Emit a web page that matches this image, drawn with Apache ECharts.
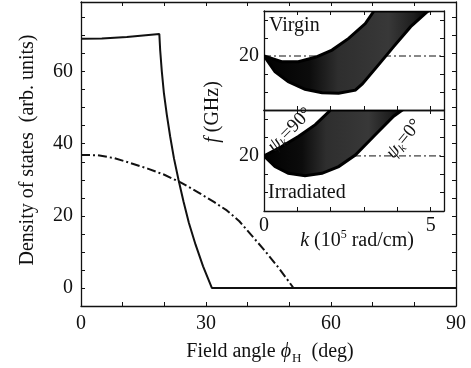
<!DOCTYPE html>
<html>
<head>
<meta charset="utf-8">
<script src="https://cdn.jsdelivr.net/npm/echarts@6/dist/echarts.min.js"></script>
<style>
html, body { margin: 0; background: #fff; }
#chart { width: 471px; height: 368px; }
</style>
</head>
<body>
<div id="chart"></div>
<script>
// main panel: density of states vs field angle
var angleTicks = [0, 10, 20, 30, 40, 50, 60, 70, 80, 90];
var angleLabels = [0, 30, 60, 90];
var dosTicks = [-5, 0, 5, 10, 15, 20, 25, 30, 35, 40, 45, 50, 55, 60, 65, 70, 75];
var dosLabels = [0, 20, 40, 60];

var solidCurve = [
  [0, 69.1], [5, 69.2], [11, 69.6], [18.8, 70.4], [19.0, 66], [19.4, 60],
  [19.9, 54], [20.6, 48], [21.4, 42], [22.3, 36], [23.4, 30], [24.6, 24],
  [25.9, 18], [27.5, 12], [29.3, 6], [31.4, 0], [90, 0]
];
var dashCurve = [
  [0, 36.9], [4, 36.8], [8, 36.0], [12, 34.6], [16, 33.1], [20, 31.4],
  [24, 29.2], [28, 26.6], [32, 23.8], [35, 21.5], [38, 18.5], [41, 14.5],
  [44, 10.5], [47.5, 5.5], [51, 0], [90, 0]
];

// inset: dispersion bands f(k)
var kTicks = [0, 1, 2, 3, 4, 5];
var kLabels = [0, 5];
var fTicks = [17, 18, 19, 20, 21, 22];
var fLabels = [20];

var virginUpper = [
  [0, 20], [0.53, 19.68], [1.03, 19.68], [1.54, 19.93], [2.04, 20.33],
  [2.54, 20.98], [3.04, 21.8], [3.3, 22.5]
];
var virginLower = [
  [0, 20], [0.33, 19.13], [0.73, 18.57], [1.23, 18.15], [1.74, 17.96],
  [2.24, 17.93], [2.74, 18.1], [2.95, 18.45], [3.39, 19.41], [3.89, 20.52],
  [4.4, 21.63], [4.9, 22.46], [4.95, 22.5]
];
var irrUpper = [
  [0, 20], [0.53, 20.51], [1.03, 21.06], [1.54, 21.7], [2.0, 22.5]
];
var irrLower = [
  [0, 20], [0.33, 19.42], [0.73, 19.05], [1.23, 18.92], [1.74, 19.05],
  [2.24, 19.42], [2.74, 20.05], [3.39, 21.25], [3.89, 22.16], [4.15, 22.5]
];
var refLine = [[0, 20], [5.4, 20]];

var ink = '#111';
var serif = 'Liberation Serif';

function axis(grid, pos, min, max, ticks, labels, extra) {
  var a = {
    type: 'value', gridIndex: grid, position: pos, min: min, max: max,
    axisLine: { show: true, onZero: false, lineStyle: { color: ink, width: 1.3 } },
    splitLine: { show: false },
    axisTick: { inside: true, length: 4, customValues: ticks, lineStyle: { color: ink, width: 1 } },
    axisLabel: { show: false }
  };
  if (labels) {
    a.axisLabel = {
      show: true, customValues: labels, color: ink, fontFamily: serif,
      fontSize: extra && extra.fs || 20, margin: extra && extra.margin || 8
    };
  }
  return a;
}

function band(xi, yi, upper, lower) {
  var pts = upper.concat(lower.slice().reverse());
  return {
    type: 'custom', xAxisIndex: xi, yAxisIndex: yi, clip: true, z: 3,
    data: pts, silent: true,
    renderItem: function (params, api) {
      if (params.dataIndex !== 0) return null;
      return {
        type: 'polygon',
        shape: { points: pts.map(function (p) { return api.coord(p); }) },
        style: {
          fill: new echarts.graphic.LinearGradient(0, 0, 1, 0, [
            { offset: 0, color: '#000' }, { offset: 0.28, color: '#0c0c0c' },
            { offset: 0.45, color: '#2e2e2e' }, { offset: 0.75, color: '#383838' },
            { offset: 0.9, color: '#1e1e1e' }, { offset: 1, color: '#000' }
          ]),
          stroke: '#000', lineWidth: 3
        }
      };
    }
  };
}

var chart = echarts.init(document.getElementById('chart'));
chart.setOption({
  backgroundColor: '#fff',
  animation: false,
  grid: [
    { left: 81, top: 2, width: 375, height: 304 },
    { left: 264, top: 11, width: 180, height: 99, show: true, backgroundColor: '#fff', borderWidth: 0 },
    { left: 264, top: 110, width: 180, height: 101, show: true, backgroundColor: '#fff', borderWidth: 0 }
  ],
  xAxis: [
    axis(0, 'bottom', 0, 90, angleTicks, angleLabels, { margin: 8 }),
    axis(0, 'top', 0, 90, angleTicks),
    axis(1, 'bottom', 0, 5.4, kTicks),
    axis(1, 'top', 0, 5.4, kTicks),
    axis(2, 'bottom', 0, 5.4, kTicks, kLabels, { margin: 5 }),
    axis(2, 'top', 0, 5.4, kTicks)
  ],
  yAxis: [
    axis(0, 'left', -5, 79.3, dosTicks, dosLabels, { margin: 8 }),
    axis(0, 'right', -5, 79.3, dosTicks),
    axis(1, 'left', 17, 22.5, fTicks, fLabels, { margin: 5 }),
    axis(1, 'right', 17, 22.5, fTicks),
    axis(2, 'left', 17, 22.5, fTicks, fLabels, { margin: 5 }),
    axis(2, 'right', 17, 22.5, fTicks)
  ],
  series: [
    {
      type: 'line', xAxisIndex: 0, yAxisIndex: 0, data: dashCurve, showSymbol: false,
      lineStyle: { color: ink, width: 2, type: [9, 3, 2, 3] }, z: 2
    },
    {
      type: 'line', xAxisIndex: 0, yAxisIndex: 0, data: solidCurve, showSymbol: false,
      lineStyle: { color: ink, width: 2 }, z: 2
    },
    {
      type: 'line', xAxisIndex: 2, yAxisIndex: 2, data: refLine, showSymbol: false,
      lineStyle: { color: ink, width: 1, type: [7, 3, 2, 3] }, z: 2
    },
    {
      type: 'line', xAxisIndex: 4, yAxisIndex: 4, data: refLine, showSymbol: false,
      lineStyle: { color: ink, width: 1, type: [7, 3, 2, 3] }, z: 2
    },
    band(2, 2, virginUpper, virginLower),
    band(4, 4, irrUpper, irrLower)
  ],
  graphic: [
    {
      type: 'text', x: 270, y: 352, z: 10,
      style: {
        text: '{t|Field angle }{i|ϕ}{s|H}{t|  (deg)}',
        align: 'center', verticalAlign: 'middle',
        rich: {
          t: { fontFamily: serif, fontSize: 20, fill: ink },
          i: { fontFamily: serif, fontSize: 20, fontStyle: 'italic', fill: ink },
          s: { fontFamily: serif, fontSize: 13, fill: ink, padding: [13, 0, 0, 1] }
        }
      }
    },
    {
      type: 'text', x: 28, y: 150, rotation: Math.PI / 2, z: 10,
      style: {
        text: 'Density of states  (arb. units)', align: 'center', verticalAlign: 'middle',
        fontFamily: serif, fontSize: 20, fill: ink
      }
    },
    {
      type: 'text', x: 213, y: 112, rotation: Math.PI / 2, z: 10,
      style: {
        text: '{i|f}{t| (GHz)}', align: 'center', verticalAlign: 'middle',
        rich: {
          t: { fontFamily: serif, fontSize: 20, fill: ink },
          i: { fontFamily: serif, fontSize: 20, fontStyle: 'italic', fill: ink }
        }
      }
    },
    {
      type: 'text', x: 357, y: 241, z: 10,
      style: {
        text: '{i|k}{t| (10}{p|5}{t| rad/cm)}', align: 'center', verticalAlign: 'middle',
        rich: {
          t: { fontFamily: serif, fontSize: 20, fill: ink },
          i: { fontFamily: serif, fontSize: 20, fontStyle: 'italic', fill: ink },
          p: { fontFamily: serif, fontSize: 12, fill: ink, padding: [0, 0, 12, 0] }
        }
      }
    },
    {
      type: 'text', x: 269, y: 26, z: 10,
      style: { text: 'Virgin', align: 'left', verticalAlign: 'middle', fontFamily: serif, fontSize: 20, fill: ink }
    },
    {
      type: 'text', x: 268, y: 193, z: 10,
      style: { text: 'Irradiated', align: 'left', verticalAlign: 'middle', fontFamily: serif, fontSize: 20, fill: ink }
    },
    {
      type: 'text', x: 290, y: 130, rotation: Math.PI / 4, z: 10,
      style: {
        text: '{i|ψ}{s|k}{t|=90°}', align: 'center', verticalAlign: 'middle',
        rich: {
          t: { fontFamily: serif, fontSize: 19, fill: ink },
          i: { fontFamily: serif, fontSize: 19, fontStyle: 'italic', fill: ink },
          s: { fontFamily: serif, fontSize: 12, fontStyle: 'italic', fill: ink, padding: [10, 0, 0, 0] }
        }
      }
    },
    {
      type: 'text', x: 404, y: 139, rotation: Math.PI * 0.28, z: 10,
      style: {
        text: '{i|ψ}{s|k}{t|=0°}', align: 'center', verticalAlign: 'middle',
        rich: {
          t: { fontFamily: serif, fontSize: 19, fill: ink },
          i: { fontFamily: serif, fontSize: 19, fontStyle: 'italic', fill: ink },
          s: { fontFamily: serif, fontSize: 12, fontStyle: 'italic', fill: ink, padding: [10, 0, 0, 0] }
        }
      }
    }
  ]
});
</script>
</body>
</html>
